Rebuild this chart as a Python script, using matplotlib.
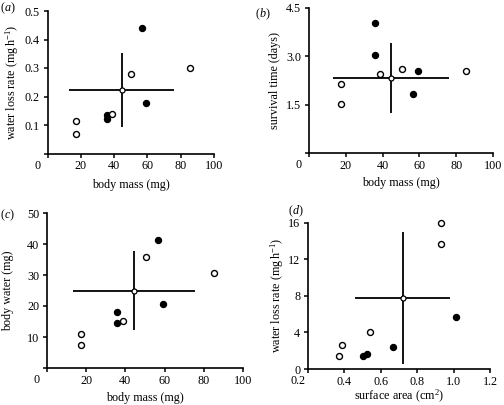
import matplotlib
matplotlib.use("Agg")
import matplotlib.pyplot as plt

plt.rcParams['font.family'] = ['Liberation Serif', 'DejaVu Serif']
plt.rcParams['mathtext.fontset'] = 'custom'
plt.rcParams['mathtext.rm'] = 'Liberation Serif'
plt.rcParams['mathtext.it'] = 'Liberation Serif:italic'
FS = 8.7

# ---------------- data ----------------
body_mass = [17.2, 17.2, 35.6, 35.6, 38.6, 50.3, 56.5, 59.3, 85.3]
filled_abc = [False, False, True, True, False, False, True, True, False]
water_loss = [0.114, 0.067, 0.134, 0.120, 0.140, 0.278, 0.440, 0.176, 0.300]
survival = [2.14, 1.52, 4.03, 3.03, 2.44, 2.62, 1.83, 2.54, 2.54]
body_water = [11.1, 7.5, 18.1, 14.6, 15.1, 35.8, 41.3, 20.8, 30.6]

surface_area = [0.368, 0.387, 0.502, 0.524, 0.542, 0.669, 0.933, 0.933, 1.011]
loss_rate_d = [1.38, 2.58, 1.38, 1.67, 4.00, 2.44, 16.0, 13.67, 5.70]
filled_d = [False, False, True, True, False, True, False, False, True]

# mean (x, y) and error half-widths (x, y) per panel
mean_a = (44.6, 0.222); err_a = (31.4, 0.13)
mean_b = (44.7, 2.33); err_b = (31.5, 1.08)
mean_c = (44.4, 24.9); err_c = (31.3, 12.8)
mean_d = (0.72, 7.78); err_d = (0.261, 7.2)

mass_ticks = [0, 20, 40, 60, 80, 100]
yticks_a = [0, 0.1, 0.2, 0.3, 0.4, 0.5]
yticklabels_a = ['', '0.1', '0.2', '0.3', '0.4', '0.5']
yticks_b = [0, 1.5, 3.0, 4.5]
yticklabels_b = ['', '1.5', '3.0', '4.5']
yticks_c = [0, 10, 20, 30, 40, 50]
yticklabels_c = ['', '10', '20', '30', '40', '50']
xticks_d = [0.2, 0.4, 0.6, 0.8, 1.0, 1.2]
xticklabels_d = ['0.2', '0.4', '0.6', '0.8', '1.0', '1.2']
yticks_d = [0, 4, 8, 12, 16]
yticklabels_d = ['0', '4', '8', '12', '16']

W, H = 504, 405
fig = plt.figure(figsize=(W / 100, H / 100), dpi=100)


def make_ax(l, r, t, b):
    return fig.add_axes([l / W, 1 - b / H, (r - l) / W, (b - t) / H])


def style(ax, xlim, ylim, xticks, xtl, yticks, ytl, xlabel, ylabel,
          ylab_x, xlab_y, panel, px, py):
    ax.set_xlim(*xlim)
    ax.set_ylim(*ylim)
    ax.spines['top'].set_visible(False)
    ax.spines['right'].set_visible(False)
    for s in ('left', 'bottom'):
        ax.spines[s].set_linewidth(1.2)
    ax.set_xticks(xticks)
    # first x tick label is shifted left, drawn separately
    ax.set_xticklabels([''] + list(xtl[1:]))
    ax.annotate(xtl[0], xy=(0, 0), xycoords='axes fraction',
                xytext=(-7.5, -8.8), textcoords='offset points',
                ha='center', va='center', fontsize=FS)
    ax.set_yticks(yticks)
    ax.set_yticklabels(ytl)
    ax.tick_params(direction='out', length=3, width=1.1, labelsize=FS)
    ax.tick_params(axis='x', pad=2)
    ax.tick_params(axis='y', pad=2.5)
    ax.set_xlabel(xlabel, fontsize=FS)
    ax.set_ylabel(ylabel, fontsize=FS)
    ax.xaxis.label.set_verticalalignment('center')
    ax.yaxis.label.set_verticalalignment('center')
    bb = ax.get_position()
    ax.yaxis.set_label_coords(ylab_x / W, (bb.y0 + bb.y1) / 2, transform=fig.transFigure)
    ax.xaxis.set_label_coords((bb.x0 + bb.x1) / 2, 1 - xlab_y / H, transform=fig.transFigure)
    fig.text(px / W, 1 - py / H, '(' + r'$\mathit{' + panel + '}$' + ')',
             fontsize=FS, ha='center', va='center')


def scatter(ax, xs, ys, filled):
    for x, y, f in zip(xs, ys, filled):
        ax.plot(x, y, 'o', ms=4.3, mec='black', mew=1.0,
                mfc='black' if f else 'white', zorder=4, clip_on=False)


def mean_bar(ax, m, e):
    ax.errorbar(m[0], m[1], xerr=e[0], yerr=e[1], fmt='o', ms=3.6,
                mfc='white', mec='black', mew=0.9, ecolor='black',
                elinewidth=1.3, capsize=0, zorder=3)


ax_a = make_ax(47.5, 214, 11, 153.5)
scatter(ax_a, body_mass, water_loss, filled_abc)
mean_bar(ax_a, mean_a, err_a)
style(ax_a, (0, 100), (0, 0.5), mass_ticks, [str(t) for t in mass_ticks],
      yticks_a, yticklabels_a, 'body mass (mg)', r'water loss rate (mg$\,$h$^{-1}$)',
      12, 185, 'a', 8, 8)

ax_b = make_ax(309, 493, 8, 153)
scatter(ax_b, body_mass, survival, filled_abc)
mean_bar(ax_b, mean_b, err_b)
style(ax_b, (0, 100), (0, 4.5), mass_ticks, [str(t) for t in mass_ticks],
      yticks_b, yticklabels_b, 'body mass (mg)', 'survival time (days)',
      275, 183, 'b', 263, 14)

ax_c = make_ax(47, 243, 213, 368)
scatter(ax_c, body_mass, body_water, filled_abc)
mean_bar(ax_c, mean_c, err_c)
style(ax_c, (0, 100), (0, 50), mass_ticks, [str(t) for t in mass_ticks],
      yticks_c, yticklabels_c, 'body mass (mg)', 'body water (mg)',
      8, 398, 'c', 7, 215)

ax_d = make_ax(308, 490, 222.5, 369)
scatter(ax_d, surface_area, loss_rate_d, filled_d)
mean_bar(ax_d, mean_d, err_d)
style(ax_d, (0.2, 1.2), (0, 16), xticks_d, xticklabels_d,
      yticks_d, yticklabels_d, r'surface area (cm$^{2}$)', r'water loss rate (mg$\,$h$^{-1}$)',
      277, 396, 'd', 296, 211)

fig.savefig('out.png', dpi=100)
